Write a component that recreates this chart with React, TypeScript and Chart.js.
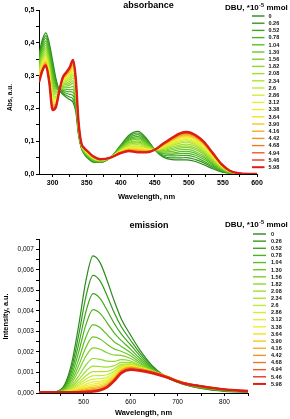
import React, { useEffect, useRef } from "react";
import { Chart, registerables } from "chart.js";

Chart.register(...registerables);

const FONT = "'Liberation Sans', Arial, sans-serif";

const DBU = ["0", "0.26", "0.52", "0.78", "1.04", "1.30", "1.56", "1.82", "2.08", "2.34", "2.6", "2.86", "3.12", "3.38", "3.64", "3.90", "4.16", "4.42", "4.68", "4.94", "5.46", "5.98"];
const COLORS = ["#2a8a1c", "#34981c", "#3fa61e", "#4cb320", "#5cbe22", "#6cc826", "#7ed02a", "#90d82c", "#a0df2e", "#b0e430", "#c2ea32", "#d4ee34", "#e4f036", "#f0ee28", "#f4e020", "#f4c81c", "#f2ae22", "#f09428", "#ee782a", "#ea5a26", "#e43620", "#dc1e16"];

// ---------- absorbance ----------
const ABS_WL = [280, 285, 290, 295, 300, 305, 310, 315, 320, 325, 330, 334, 338, 342, 346, 352, 360, 370, 385, 400, 412, 425, 438, 450, 462, 475, 487, 497, 510, 522, 535, 548, 560, 575, 600];
const A00 = [0.365, 0.41, 0.43, 0.40, 0.345, 0.29, 0.255, 0.243, 0.234, 0.227, 0.218, 0.19, 0.12, 0.08, 0.062, 0.047, 0.036, 0.035, 0.05, 0.088, 0.118, 0.13, 0.108, 0.074, 0.052, 0.044, 0.043, 0.043, 0.038, 0.028, 0.016, 0.006, 0.002, 0.001, 0];
const A01 = [0.358, 0.402, 0.422, 0.390, 0.333, 0.283, 0.255, 0.247, 0.240, 0.235, 0.228, 0.198, 0.123, 0.081, 0.063, 0.049, 0.037, 0.036, 0.05, 0.086, 0.114, 0.125, 0.105, 0.074, 0.055, 0.049, 0.049, 0.050, 0.044, 0.034, 0.020, 0.008, 0.003, 0.001, 0];
const A02 = [0.351, 0.395, 0.414, 0.381, 0.321, 0.276, 0.255, 0.251, 0.246, 0.243, 0.239, 0.206, 0.126, 0.082, 0.065, 0.050, 0.039, 0.037, 0.05, 0.084, 0.110, 0.120, 0.101, 0.074, 0.058, 0.055, 0.056, 0.057, 0.051, 0.039, 0.024, 0.010, 0.003, 0.001, 0];
const A03 = [0.345, 0.387, 0.406, 0.371, 0.309, 0.270, 0.255, 0.255, 0.252, 0.251, 0.249, 0.214, 0.130, 0.084, 0.066, 0.052, 0.040, 0.037, 0.05, 0.082, 0.106, 0.115, 0.098, 0.074, 0.062, 0.060, 0.062, 0.063, 0.057, 0.045, 0.028, 0.012, 0.004, 0.001, 0];
const A04 = [0.339, 0.381, 0.399, 0.363, 0.299, 0.264, 0.255, 0.259, 0.258, 0.257, 0.258, 0.221, 0.132, 0.085, 0.068, 0.054, 0.041, 0.038, 0.05, 0.081, 0.103, 0.110, 0.095, 0.074, 0.064, 0.064, 0.068, 0.069, 0.063, 0.050, 0.031, 0.013, 0.004, 0.001, 0];
const A05 = [0.333, 0.374, 0.392, 0.354, 0.288, 0.258, 0.255, 0.263, 0.263, 0.264, 0.267, 0.228, 0.135, 0.086, 0.069, 0.055, 0.042, 0.039, 0.05, 0.079, 0.100, 0.106, 0.092, 0.074, 0.067, 0.069, 0.074, 0.075, 0.068, 0.055, 0.034, 0.015, 0.005, 0.001, 0];
const A06 = [0.327, 0.367, 0.385, 0.346, 0.278, 0.252, 0.255, 0.266, 0.268, 0.271, 0.277, 0.235, 0.138, 0.087, 0.070, 0.056, 0.044, 0.040, 0.05, 0.077, 0.096, 0.101, 0.089, 0.074, 0.070, 0.074, 0.079, 0.081, 0.074, 0.060, 0.038, 0.017, 0.006, 0.001, 0];
const A07 = [0.322, 0.362, 0.379, 0.339, 0.269, 0.247, 0.255, 0.270, 0.273, 0.277, 0.284, 0.241, 0.140, 0.088, 0.071, 0.058, 0.045, 0.040, 0.05, 0.076, 0.094, 0.097, 0.087, 0.074, 0.072, 0.078, 0.084, 0.086, 0.079, 0.064, 0.040, 0.018, 0.006, 0.001, 0];
const A08 = [0.317, 0.356, 0.373, 0.332, 0.260, 0.242, 0.255, 0.273, 0.277, 0.283, 0.292, 0.247, 0.143, 0.089, 0.072, 0.059, 0.046, 0.041, 0.05, 0.074, 0.091, 0.094, 0.084, 0.074, 0.075, 0.082, 0.089, 0.091, 0.084, 0.068, 0.043, 0.020, 0.007, 0.001, 0];
const A09 = [0.311, 0.350, 0.367, 0.324, 0.251, 0.236, 0.255, 0.276, 0.282, 0.289, 0.300, 0.253, 0.145, 0.089, 0.073, 0.060, 0.047, 0.041, 0.05, 0.073, 0.088, 0.090, 0.082, 0.074, 0.077, 0.086, 0.094, 0.097, 0.088, 0.072, 0.046, 0.021, 0.007, 0.001, 0];
const A10 = [0.307, 0.345, 0.362, 0.318, 0.243, 0.232, 0.255, 0.278, 0.286, 0.294, 0.306, 0.258, 0.147, 0.090, 0.074, 0.061, 0.048, 0.042, 0.05, 0.072, 0.085, 0.086, 0.079, 0.074, 0.079, 0.089, 0.098, 0.101, 0.092, 0.076, 0.049, 0.022, 0.007, 0.001, 0];
const A11 = [0.303, 0.341, 0.357, 0.312, 0.236, 0.228, 0.255, 0.281, 0.290, 0.299, 0.313, 0.263, 0.149, 0.091, 0.075, 0.062, 0.048, 0.042, 0.05, 0.070, 0.083, 0.083, 0.077, 0.074, 0.081, 0.092, 0.102, 0.105, 0.096, 0.079, 0.051, 0.024, 0.008, 0.002, 0];
const A12 = [0.300, 0.337, 0.353, 0.308, 0.230, 0.225, 0.255, 0.283, 0.293, 0.302, 0.318, 0.267, 0.151, 0.092, 0.076, 0.063, 0.049, 0.043, 0.05, 0.070, 0.081, 0.081, 0.076, 0.074, 0.083, 0.095, 0.105, 0.108, 0.100, 0.082, 0.053, 0.024, 0.008, 0.002, 0];
const A13 = [0.296, 0.333, 0.349, 0.303, 0.224, 0.221, 0.255, 0.285, 0.296, 0.306, 0.323, 0.271, 0.152, 0.092, 0.077, 0.064, 0.050, 0.043, 0.05, 0.069, 0.079, 0.078, 0.074, 0.074, 0.084, 0.097, 0.109, 0.112, 0.103, 0.085, 0.055, 0.025, 0.008, 0.002, 0];
const A14 = [0.293, 0.329, 0.345, 0.298, 0.218, 0.218, 0.255, 0.287, 0.299, 0.310, 0.329, 0.275, 0.154, 0.093, 0.077, 0.065, 0.050, 0.044, 0.05, 0.068, 0.077, 0.076, 0.072, 0.074, 0.086, 0.100, 0.112, 0.115, 0.106, 0.088, 0.057, 0.026, 0.009, 0.002, 0];
const A15 = [0.290, 0.326, 0.342, 0.294, 0.213, 0.215, 0.255, 0.289, 0.301, 0.313, 0.332, 0.278, 0.155, 0.093, 0.078, 0.065, 0.051, 0.044, 0.05, 0.067, 0.076, 0.074, 0.071, 0.074, 0.087, 0.102, 0.114, 0.118, 0.108, 0.090, 0.058, 0.027, 0.009, 0.002, 0];
const A16 = [0.288, 0.324, 0.339, 0.291, 0.209, 0.213, 0.255, 0.290, 0.303, 0.316, 0.336, 0.281, 0.156, 0.094, 0.078, 0.066, 0.051, 0.044, 0.05, 0.066, 0.074, 0.072, 0.070, 0.074, 0.088, 0.104, 0.117, 0.120, 0.111, 0.092, 0.060, 0.028, 0.009, 0.002, 0];
const A17 = [0.285, 0.321, 0.336, 0.287, 0.204, 0.210, 0.255, 0.292, 0.305, 0.319, 0.340, 0.284, 0.158, 0.094, 0.079, 0.067, 0.052, 0.044, 0.05, 0.065, 0.073, 0.070, 0.069, 0.074, 0.090, 0.106, 0.119, 0.123, 0.113, 0.094, 0.061, 0.029, 0.010, 0.002, 0];
const A18 = [0.283, 0.319, 0.334, 0.285, 0.201, 0.208, 0.255, 0.293, 0.307, 0.321, 0.343, 0.286, 0.158, 0.094, 0.079, 0.067, 0.052, 0.045, 0.05, 0.065, 0.072, 0.069, 0.068, 0.074, 0.090, 0.107, 0.121, 0.125, 0.115, 0.095, 0.062, 0.029, 0.010, 0.002, 0];
const A19 = [0.282, 0.317, 0.332, 0.282, 0.198, 0.207, 0.255, 0.294, 0.308, 0.323, 0.345, 0.288, 0.159, 0.095, 0.080, 0.068, 0.053, 0.045, 0.05, 0.064, 0.071, 0.067, 0.067, 0.074, 0.091, 0.109, 0.122, 0.126, 0.116, 0.097, 0.063, 0.030, 0.010, 0.002, 0];
const A20 = [0.281, 0.316, 0.331, 0.281, 0.197, 0.206, 0.255, 0.294, 0.309, 0.324, 0.347, 0.289, 0.160, 0.095, 0.080, 0.068, 0.053, 0.045, 0.05, 0.064, 0.070, 0.067, 0.066, 0.074, 0.092, 0.109, 0.123, 0.127, 0.117, 0.097, 0.064, 0.030, 0.010, 0.002, 0];
const A21 = [0.28, 0.315, 0.33, 0.28, 0.195, 0.205, 0.255, 0.295, 0.31, 0.325, 0.348, 0.29, 0.16, 0.095, 0.08, 0.068, 0.053, 0.045, 0.05, 0.064, 0.07, 0.066, 0.066, 0.074, 0.092, 0.11, 0.124, 0.128, 0.118, 0.098, 0.064, 0.03, 0.01, 0.002, 0];
const ABS_SERIES = [A00, A01, A02, A03, A04, A05, A06, A07, A08, A09, A10, A11, A12, A13, A14, A15, A16, A17, A18, A19, A20, A21];

// ---------- emission ----------
const EM_WL = [405, 440, 460, 475, 490, 505, 520, 535, 550, 565, 580, 600, 620, 645, 675, 710, 750, 800, 850];
const E00 = [0.00003, 0.00006, 0.00043, 0.00149, 0.00336, 0.00548, 0.00668, 0.00635, 0.00548, 0.00449, 0.00362, 0.00282, 0.00209, 0.00136, 0.00079, 0.00044, 0.00022, 0.00008, 0.00004];
const E01 = [0.00003, 0.00006, 0.00037, 0.00128, 0.00288, 0.00471, 0.00573, 0.00546, 0.00474, 0.00392, 0.00324, 0.00257, 0.00194, 0.0013, 0.00079, 0.00045, 0.00023, 0.0001, 0.00005];
const E02 = [0.00003, 0.00005, 0.00032, 0.00109, 0.00243, 0.00397, 0.00484, 0.00461, 0.00403, 0.0034, 0.00288, 0.00235, 0.00181, 0.00125, 0.00079, 0.00045, 0.00025, 0.00011, 0.00005];
const E03 = [0.00003, 0.00005, 0.00027, 0.00091, 0.00204, 0.00333, 0.00406, 0.00388, 0.00342, 0.00293, 0.00256, 0.00214, 0.00168, 0.0012, 0.00078, 0.00046, 0.00026, 0.00012, 0.00006];
const E04 = [0.00003, 0.00005, 0.00023, 0.00075, 0.00167, 0.00273, 0.00333, 0.00319, 0.00284, 0.0025, 0.00227, 0.00196, 0.00157, 0.00116, 0.00078, 0.00046, 0.00027, 0.00013, 0.00006];
const E05 = [0.00003, 0.00004, 0.00019, 0.00062, 0.00137, 0.00223, 0.00273, 0.00263, 0.00237, 0.00215, 0.00203, 0.00181, 0.00148, 0.00113, 0.00078, 0.00047, 0.00028, 0.00014, 0.00007];
const E06 = [0.00003, 0.00004, 0.00016, 0.0005, 0.00111, 0.0018, 0.0022, 0.00213, 0.00196, 0.00185, 0.00183, 0.00168, 0.00142, 0.00111, 0.00079, 0.00048, 0.00029, 0.00014, 0.00007];
const E07 = [0.00003, 0.00004, 0.00013, 0.00039, 0.00084, 0.00137, 0.00168, 0.00164, 0.00155, 0.00154, 0.00163, 0.00156, 0.00135, 0.00109, 0.00079, 0.00049, 0.0003, 0.00015, 0.00008];
const E08 = [0.00003, 0.00004, 0.00011, 0.00031, 0.00066, 0.00106, 0.00131, 0.00129, 0.00126, 0.00133, 0.00149, 0.00148, 0.0013, 0.00107, 0.0008, 0.00049, 0.00031, 0.00016, 0.00008];
const E09 = [0.00003, 0.00003, 0.00009, 0.00025, 0.00052, 0.00084, 0.00104, 0.00104, 0.00105, 0.00118, 0.00139, 0.00142, 0.00127, 0.00107, 0.00081, 0.0005, 0.00032, 0.00017, 0.00008];
const E10 = [0.00003, 0.00003, 0.00008, 0.0002, 0.00042, 0.00068, 0.00084, 0.00085, 0.00089, 0.00106, 0.00132, 0.00138, 0.00125, 0.00106, 0.00081, 0.00051, 0.00033, 0.00017, 0.00008];
const E11 = [0.00003, 0.00003, 0.00007, 0.00017, 0.00034, 0.00055, 0.00068, 0.0007, 0.00077, 0.00098, 0.00127, 0.00135, 0.00124, 0.00107, 0.00082, 0.00051, 0.00033, 0.00017, 0.00008];
const E12 = [0.00003, 0.00003, 0.00006, 0.00014, 0.00027, 0.00043, 0.00054, 0.00057, 0.00067, 0.0009, 0.00122, 0.00133, 0.00123, 0.00107, 0.00083, 0.00052, 0.00034, 0.00018, 0.00009];
const E13 = [0.00003, 0.00003, 0.00005, 0.00011, 0.00022, 0.00035, 0.00044, 0.00048, 0.00059, 0.00084, 0.00119, 0.00131, 0.00122, 0.00107, 0.00084, 0.00052, 0.00034, 0.00018, 0.00009];
const E14 = [0.00003, 0.00003, 0.00005, 0.00009, 0.00018, 0.00028, 0.00035, 0.0004, 0.00052, 0.00079, 0.00116, 0.00129, 0.00121, 0.00107, 0.00084, 0.00053, 0.00035, 0.00018, 0.00009];
const E15 = [0.00003, 0.00003, 0.00004, 0.00008, 0.00014, 0.00021, 0.00027, 0.00032, 0.00046, 0.00075, 0.00112, 0.00127, 0.0012, 0.00106, 0.00084, 0.00053, 0.00035, 0.00018, 0.00009];
const E16 = [0.00003, 0.00003, 0.00004, 0.00006, 0.00011, 0.00016, 0.00021, 0.00027, 0.00041, 0.00071, 0.0011, 0.00125, 0.00119, 0.00106, 0.00084, 0.00053, 0.00035, 0.00018, 0.00009];
const E17 = [0.00003, 0.00003, 0.00004, 0.00005, 0.00008, 0.00012, 0.00016, 0.00022, 0.00037, 0.00068, 0.00107, 0.00123, 0.00117, 0.00105, 0.00083, 0.00052, 0.00035, 0.00018, 0.00009];
const E18 = [0.00003, 0.00003, 0.00003, 0.00004, 0.00006, 0.00009, 0.00012, 0.00018, 0.00033, 0.00065, 0.00104, 0.00121, 0.00115, 0.00103, 0.00082, 0.00052, 0.00034, 0.00018, 0.00009];
const E19 = [0.00003, 0.00003, 0.00003, 0.00004, 0.00005, 0.00007, 0.00009, 0.00015, 0.0003, 0.00062, 0.00101, 0.00117, 0.00112, 0.00101, 0.0008, 0.00051, 0.00034, 0.00018, 0.00009];
const E20 = [0.00003, 0.00003, 0.00003, 0.00003, 0.00004, 0.00006, 0.00008, 0.00014, 0.00029, 0.0006, 0.00099, 0.00116, 0.00111, 0.001, 0.00079, 0.0005, 0.00033, 0.00018, 0.00009];
const E21 = [0.00003, 0.00003, 0.00003, 0.00003, 0.00004, 0.00005, 0.00007, 0.00013, 0.00028, 0.00059, 0.00097, 0.00113, 0.00109, 0.00098, 0.00078, 0.00049, 0.00033, 0.00017, 0.00009];
const EM_SERIES = [E00, E01, E02, E03, E04, E05, E06, E07, E08, E09, E10, E11, E12, E13, E14, E15, E16, E17, E18, E19, E20, E21];

// ---------- ticks ----------
const ABS_X_TICKS = [300, 325, 350, 375, 400, 425, 450, 475, 500, 525, 550, 575, 600];
const ABS_X_LABELS = [300, 350, 400, 450, 500, 550, 600];
const ABS_Y_TICKS = [0, 0.05, 0.1, 0.15, 0.2, 0.25, 0.3, 0.35, 0.4, 0.45, 0.5];
const ABS_Y_LABELS = [0, 0.1, 0.2, 0.3, 0.4, 0.5];
const EM_X_TICKS = [450, 500, 550, 600, 650, 700, 750, 800, 850];
const EM_X_LABELS = [500, 600, 700, 800];
const EM_Y_TICKS = [0, 0.0005, 0.001, 0.0015, 0.002, 0.0025, 0.003, 0.0035, 0.004, 0.0045, 0.005, 0.0055, 0.006, 0.0065, 0.007, 0.0075];
const EM_Y_LABELS = [0, 0.001, 0.002, 0.003, 0.004, 0.005, 0.006, 0.007];

type Spec = any;

const absSpec: Spec = {
  key: "abs",
  wl: ABS_WL, series: ABS_SERIES,
  xMin: 280, xMax: 600, yMin: 0, yMax: 0.5,
  xTicks: ABS_X_TICKS, xLabels: ABS_X_LABELS, yTicks: ABS_Y_TICKS, yLabels: ABS_Y_LABELS,
  xFmt: (v: number) => String(v),
  yFmt: (v: number) => v.toFixed(1).replace(".", ","),
  tickFont: { family: FONT, size: 7, weight: "bold" },
  xPad: 2, yPad: 1.7,
  padding: { top: 10, right: 33, left: 0, bottom: 0 },
  yWidth: 39, xHeight: 36,
  lineW: 1.2, redW: 2.4,
  title: { text: "absorbance", x: 148.5, y: 6, size: 9 },
  xTitle: { text: "Wavelength, nm", x: 146.5, y: 197, size: 7.5 },
  yTitle: { text: "Abs, a.u.", x: 10, y: 97.5, size: 6.5 },
  legend: { hx: 225, hy: 7.5, y0: 16, dy: 7.2, x1: 252, x2: 264.5, lx: 268.5 },
};

const emSpec: Spec = {
  key: "em",
  wl: EM_WL, series: EM_SERIES,
  xMin: 405, xMax: 850, yMin: 0, yMax: 0.0075,
  xTicks: EM_X_TICKS, xLabels: EM_X_LABELS, yTicks: EM_Y_TICKS, yLabels: EM_Y_LABELS,
  xFmt: (v: number) => String(v),
  yFmt: (v: number) => v.toFixed(3).replace(".", ","),
  tickFont: { family: FONT, size: 6.5, weight: "normal" },
  xPad: 2, yPad: 2.2,
  padding: { top: 29, right: 42, left: 0, bottom: 0 },
  yWidth: 39, xHeight: 26,
  lineW: 1.2, redW: 2.6,
  title: { text: "emission", x: 149, y: 16, size: 9 },
  xTitle: { text: "Wavelength, nm", x: 143.5, y: 202.7, size: 7.5 },
  yTitle: { text: "Intensity, a.u.", x: 5.5, y: 106.5, size: 7.3 },
  legend: { hx: 225, hy: 15, y0: 24, dy: 7.14, x1: 253, x2: 266, lx: 271 },
};

function overlay(spec: Spec) {
  return {
    id: "overlay_" + spec.key,
    afterDraw(chart: any) {
      const ctx: CanvasRenderingContext2D = chart.ctx;
      ctx.save();
      ctx.fillStyle = "#000";
      ctx.textBaseline = "middle";
      ctx.textAlign = "center";
      ctx.font = `bold ${spec.title.size}px ${FONT}`;
      ctx.fillText(spec.title.text, spec.title.x, spec.title.y);
      ctx.font = `bold ${spec.xTitle.size}px ${FONT}`;
      ctx.fillText(spec.xTitle.text, spec.xTitle.x, spec.xTitle.y);
      ctx.save();
      ctx.translate(spec.yTitle.x, spec.yTitle.y);
      ctx.rotate(-Math.PI / 2);
      ctx.font = `bold ${spec.yTitle.size}px ${FONT}`;
      ctx.fillText(spec.yTitle.text, 0, 0);
      ctx.restore();

      const L = spec.legend;
      ctx.textAlign = "left";
      let x = L.hx;
      ctx.font = `bold 8px ${FONT}`;
      ctx.fillText("DBU, *10", x, L.hy);
      x += ctx.measureText("DBU, *10").width;
      ctx.font = `bold 5.5px ${FONT}`;
      ctx.fillText("-5", x + 0.3, L.hy - 2.5);
      x += ctx.measureText("-5").width + 0.6;
      ctx.font = `bold 8px ${FONT}`;
      ctx.fillText(" mmol", x, L.hy);

      const n = chart.data.datasets.length;
      chart.data.datasets.forEach((ds: any, k: number) => {
        const y = L.y0 + k * L.dy;
        ctx.strokeStyle = ds.borderColor;
        ctx.lineWidth = k === n - 1 ? 2 : 1.4;
        ctx.beginPath();
        ctx.moveTo(L.x1, y);
        ctx.lineTo(L.x2, y);
        ctx.stroke();
        ctx.fillStyle = "#111";
        ctx.font = `bold 5.5px ${FONT}`;
        ctx.fillText(ds.label, L.lx, y + 0.3);
      });
      ctx.restore();
    },
  };
}

function buildConfig(spec: Spec): any {
  const n = spec.series.length;
  return {
    type: "line",
    data: {
      datasets: spec.series.map((vals: number[], k: number) => ({
        label: DBU[k],
        data: spec.wl.map((w: number, j: number) => ({ x: w, y: vals[j] })),
        borderColor: COLORS[k],
        backgroundColor: COLORS[k],
        borderWidth: k === n - 1 ? spec.redW : spec.lineW,
        pointRadius: 0,
        fill: false,
        cubicInterpolationMode: "monotone",
        order: n - k,
      })),
    },
    options: {
      responsive: false,
      animation: false,
      devicePixelRatio: 1,
      events: [],
      layout: { padding: spec.padding },
      plugins: { legend: { display: false }, tooltip: { enabled: false }, title: { display: false } },
      scales: {
        x: {
          type: "linear",
          min: spec.xMin,
          max: spec.xMax,
          afterBuildTicks: (s: any) => { s.ticks = spec.xTicks.map((v: number) => ({ value: v })); },
          afterFit: (s: any) => { s.height = spec.xHeight; },
          grid: { display: true, drawOnChartArea: false, drawTicks: true, tickLength: 3, color: "#000", lineWidth: 1 },
          border: { display: true, color: "#000", width: 1 },
          ticks: {
            autoSkip: false, maxRotation: 0, minRotation: 0,
            padding: spec.xPad, color: "#000", font: spec.tickFont,
            callback: (v: number) => (spec.xLabels.includes(v) ? spec.xFmt(v) : ""),
          },
        },
        y: {
          type: "linear",
          min: spec.yMin,
          max: spec.yMax,
          afterBuildTicks: (s: any) => { s.ticks = spec.yTicks.map((v: number) => ({ value: v })); },
          afterFit: (s: any) => { s.width = spec.yWidth; },
          grid: { display: true, drawOnChartArea: false, drawTicks: true, tickLength: 3, color: "#000", lineWidth: 1 },
          border: { display: true, color: "#000", width: 1 },
          ticks: {
            autoSkip: false,
            padding: spec.yPad, color: "#000", font: spec.tickFont,
            callback: (v: number) => (spec.yLabels.includes(v) ? spec.yFmt(v) : ""),
          },
        },
      },
    },
    plugins: [overlay(spec)],
  };
}

export default function App() {
  const topRef = useRef<HTMLCanvasElement>(null);
  const botRef = useRef<HTMLCanvasElement>(null);
  useEffect(() => {
    const c1 = new Chart(topRef.current as HTMLCanvasElement, buildConfig(absSpec));
    const c2 = new Chart(botRef.current as HTMLCanvasElement, buildConfig(emSpec));
    return () => { c1.destroy(); c2.destroy(); };
  }, []);
  return (
    <div style={{ position: "fixed", left: 0, top: 0, width: 290, height: 419, background: "#fff" }}>
      <canvas ref={topRef} width={290} height={210} style={{ position: "absolute", left: 0, top: 0, width: 290, height: 210 }} />
      <canvas ref={botRef} width={290} height={209} style={{ position: "absolute", left: 0, top: 210, width: 290, height: 209 }} />
    </div>
  );
}
